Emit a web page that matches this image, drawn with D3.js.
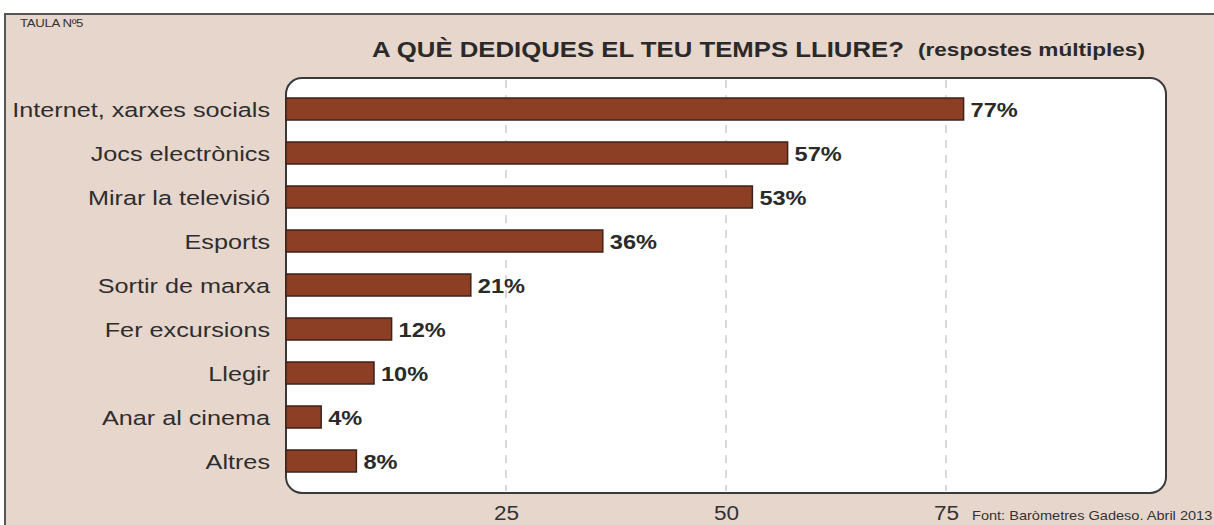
<!DOCTYPE html>
<html><head><meta charset="utf-8">
<script src="https://cdn.jsdelivr.net/npm/d3@7"></script>
<style>html,body{margin:0;padding:0;background:#fff;}svg{display:block;}</style>
</head><body>
<svg id="c" width="1214" height="525"></svg>
<script>
const categories = ["Internet, xarxes socials","Jocs electrònics","Mirar la televisió","Esports","Sortir de marxa","Fer excursions","Llegir","Anar al cinema","Altres"];
const values = [77,57,53,36,21,12,10,4,8];
const tickValues = [25,50,75];
const title = "A QUÈ DEDIQUES EL TEU TEMPS LLIURE?";
const subtitle = "(respostes múltiples)";
const tableLabel = "TAULA Nº5";
const source = "Font: Baròmetres Gadeso. Abril 2013";

const svg = d3.select("#c");
const W = 1214, H = 525;
const font = "'Liberation Sans', Arial, Helvetica, sans-serif";
const SX = 1.23; // horizontal stretch of the original picture's lettering

// outer frame
svg.append("rect").attr("x",5).attr("y",14).attr("width",W+10).attr("height",H)
  .attr("fill","#e7d6cc").attr("stroke","#555").attr("stroke-width",2);

const plot = {l:286, t:78, r:1166, b:493};
const x = d3.scaleLinear().domain([0,100]).range([plot.l, plot.l+880]);
const y = d3.scaleBand().domain(categories).range([87, 483]).paddingInner(0.5).paddingOuter(0.25);

svg.append("rect").attr("x",plot.l).attr("y",plot.t).attr("width",plot.r-plot.l).attr("height",plot.b-plot.t)
  .attr("rx",16).attr("ry",16).attr("fill","#fff").attr("stroke","#3a3a3a").attr("stroke-width",2);

// gridlines
svg.append("g").selectAll("line").data(tickValues).join("line")
  .attr("x1",d=>x(d)).attr("x2",d=>x(d)).attr("y1",plot.t+2).attr("y2",plot.b-2)
  .attr("stroke","#cdcdcd").attr("stroke-width",1.5).attr("stroke-dasharray","8,7");

// axis
const axis = d3.axisBottom(x).tickValues(tickValues).tickSize(0).tickPadding(0);
const ag = svg.append("g").attr("transform",`translate(0,${plot.b+27})`).call(axis);
ag.select(".domain").remove();
ag.selectAll(".tick text").attr("dy","0").attr("y",0).attr("font-family",font).attr("font-size",20.5)
  .attr("fill","#333").attr("transform",`scale(1.1,1)`);

// bars
svg.append("g").selectAll("rect").data(values).join("rect")
  .attr("x",x(0)).attr("y",(d,i)=>y(categories[i]))
  .attr("width",d=>x(d)-x(0)).attr("height",y.bandwidth())
  .attr("fill","#8c3f25").attr("stroke","#3d2318").attr("stroke-width",1.5);

// value labels
svg.append("g").selectAll("text").data(values).join("text")
  .attr("transform",(d,i)=>`translate(${x(d)+7},${y(categories[i])+y.bandwidth()/2+8}) scale(1.15,1)`)
  .attr("font-family",font).attr("font-size",20.5).attr("font-weight","bold").attr("fill","#2a2a2a")
  .text(d=>d+"%");

// category labels
svg.append("g").selectAll("text").data(categories).join("text")
  .attr("transform",d=>`translate(270,${y(d)+y.bandwidth()/2+7.5}) scale(${SX},1)`).attr("text-anchor","end")
  .attr("font-family",font).attr("font-size",20.5).attr("fill","#2e2e2e")
  .text(d=>d);

// titles
svg.append("text").attr("transform",`translate(372,57) scale(1.17,1)`).attr("font-family",font).attr("font-size",22)
  .attr("font-weight","bold").attr("fill","#2a2a2a").text(title);
svg.append("text").attr("transform",`translate(918,56) scale(1.22,1)`).attr("font-family",font).attr("font-size",18.5)
  .attr("font-weight","bold").attr("fill","#2a2a2a").text(subtitle);
svg.append("text").attr("transform",`translate(20,27) scale(1.15,1)`).attr("font-family",font).attr("font-size",11.5)
  .attr("fill","#333").attr("letter-spacing","-0.3").text(tableLabel);
svg.append("text").attr("transform",`translate(972,520) scale(1.12,1)`).attr("font-family",font).attr("font-size",13)
  .attr("fill","#333").text(source);
</script>
</body></html>
